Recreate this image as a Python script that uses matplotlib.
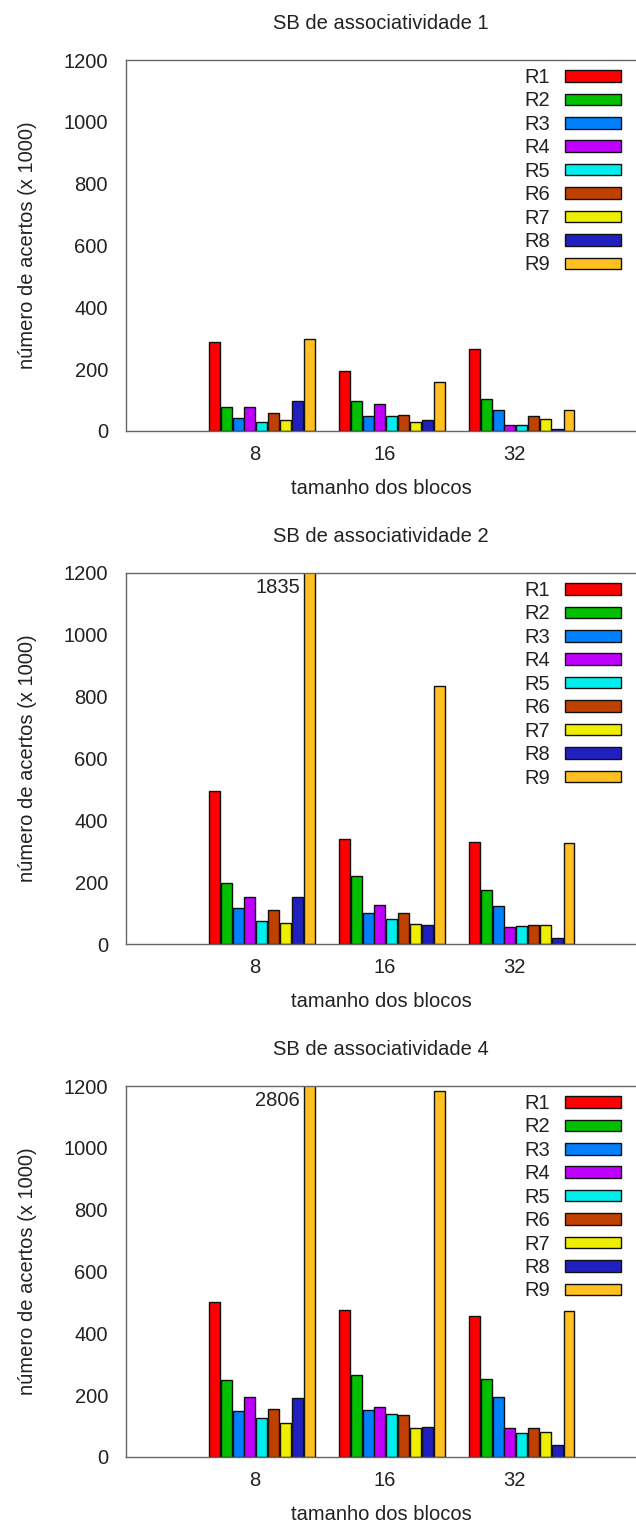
import numpy as np
import matplotlib
matplotlib.use("Agg")
from matplotlib import pyplot as plt

plt.rcParams['font.family'] = ['Liberation Sans', 'DejaVu Sans']

block_sizes = ['8', '16', '32']
series = ['R1', 'R2', 'R3', 'R4', 'R5', 'R6', 'R7', 'R8', 'R9']
colors = ['#ff0000', '#00c000', '#0080ff', '#c000ff', '#00eeee',
          '#c04000', '#eeee00', '#2020c0', '#ffc020']

# hits (x 1000), one list per series, values for block sizes 8, 16, 32
assoc1 = [
    [287, 193, 266],
    [77, 97, 103],
    [41, 49, 69],
    [77, 87, 18],
    [28, 49, 18],
    [58, 53, 50],
    [35, 28, 38],
    [97, 35, 8],
    [298, 160, 67],
]
assoc2 = [
    [496, 341, 331],
    [198, 220, 176],
    [118, 99, 124],
    [152, 127, 55],
    [76, 82, 59],
    [109, 99, 63],
    [68, 65, 63],
    [152, 61, 20],
    [1835, 835, 328],
]
assoc4 = [
    [500, 476, 456],
    [249, 266, 252],
    [149, 152, 194],
    [194, 163, 94],
    [125, 139, 77],
    [156, 135, 94],
    [111, 93, 80],
    [191, 98, 40],
    [2806, 1185, 473],
]
panels = [('SB de associatividade 1', assoc1),
          ('SB de associatividade 2', assoc2),
          ('SB de associatividade 4', assoc4)]

ymax = 1200
fs = 14.5
W, H = 636, 1524
fig = plt.figure(figsize=(W / 100, H / 100), dpi=100)

tops = [60, 573, 1086]
ax_h = 371
group_step = 11      # 9 bars + gap of 2
groups = np.arange(len(block_sizes)) * group_step

for (title, data), top in zip(panels, tops):
    ax = fig.add_axes([126 / W, 1 - (top + ax_h) / H, 510 / W, ax_h / H])
    for i, (name, vals) in enumerate(zip(series, data)):
        ax.bar(groups + i, vals, width=0.93, color=colors[i],
               edgecolor='#111111', linewidth=1.0, label=name)
        for x, v in zip(groups + i, vals):
            if v > ymax:
                ax.text(x - 0.75, ymax * 0.96, str(v), ha='right',
                        va='center', fontsize=fs, color='#222222')
    ax.set_xlim(-7.49, 35.67)
    ax.set_ylim(0, ymax)
    ax.set_yticks(np.arange(0, 1201, 200))
    ax.set_xticks(groups + 3.37)
    ax.set_xticklabels(block_sizes)
    ax.tick_params(axis='both', length=0, labelsize=fs, colors='#222222')
    ax.tick_params(axis='y', pad=13)
    ax.tick_params(axis='x', pad=10)
    for s in ['left', 'top', 'bottom']:
        ax.spines[s].set_color('#666666')
        ax.spines[s].set_linewidth(1.0)
    ax.spines['right'].set_visible(False)
    ax.set_title(title, fontsize=fs, pad=22, color='#222222')
    ax.set_xlabel('tamanho dos blocos', fontsize=fs, labelpad=11,
                  color='#222222')
    ax.set_ylabel('número de acertos (x 1000)', fontsize=fs, color='#222222')
    ax.yaxis.set_label_coords(-0.175, 0.5)
    leg = ax.legend(loc='upper right', bbox_to_anchor=(0.987, 1.0),
                    frameon=False, markerfirst=False, fontsize=fs,
                    handlelength=2.8, handleheight=0.5, handletextpad=0.75,
                    labelspacing=0.22, borderaxespad=0)
    for t in leg.get_texts():
        t.set_color('#222222')

fig.savefig('out.png', dpi=100)
